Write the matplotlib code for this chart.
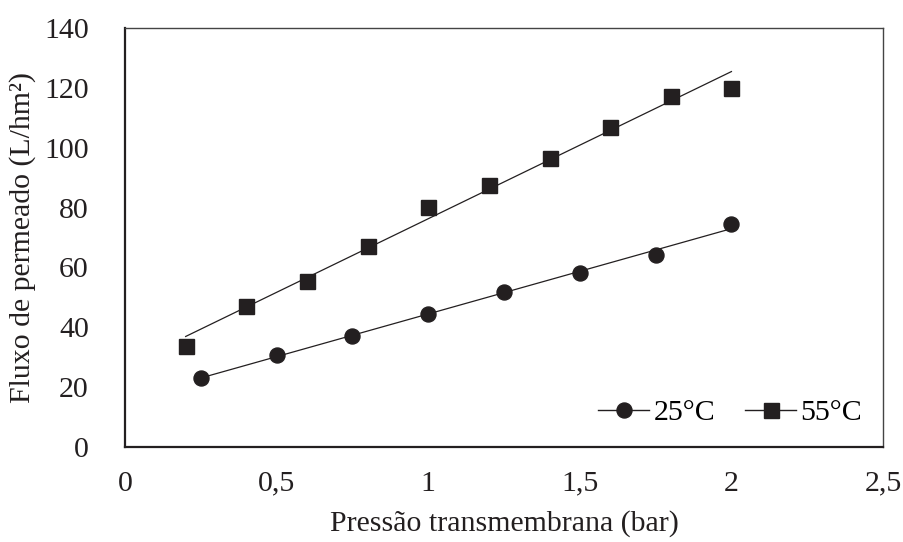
import numpy as np
import matplotlib
matplotlib.use("Agg")
import matplotlib.pyplot as plt
from matplotlib.lines import Line2D

plt.rcParams['font.family'] = ['Liberation Serif', 'DejaVu Serif']

# data
p25 = [0.25, 0.5, 0.75, 1.0, 1.25, 1.5, 1.75, 2.0]
fluxo25 = [23.2, 30.6, 37.0, 44.6, 51.7, 58.1, 64.3, 74.6]
p55 = [0.2, 0.4, 0.6, 0.8, 1.0, 1.2, 1.4, 1.6, 1.8, 2.0]
fluxo55 = [33.6, 47.0, 55.3, 67.3, 80.2, 87.7, 96.6, 107.0, 117.2, 120.0]

xticks = [0, 0.5, 1, 1.5, 2, 2.5]
xticklabels = ['0', '0,5', '1', '1,5', '2', '2,5']
yticks = [0, 20, 40, 60, 80, 100, 120, 140]

cor = '#231F20'
fs = 21.5

fig = plt.figure(figsize=(9.04, 5.42), dpi=100)
ax = fig.add_axes([0.1383, 0.1753, 0.8385, 0.773])

# points
ax.plot(p25, fluxo25, 'o', color=cor, ms=10.8, zorder=3)
ax.plot(p55, fluxo55, 's', color=cor, ms=10.8, zorder=3)

# linear trend lines
for x, y in [(p25, fluxo25), (p55, fluxo55)]:
    a, b = np.polyfit(x, y, 1)
    xx = np.array([min(x), max(x)])
    ax.plot(xx, a * xx + b, '-', color=cor, lw=0.9, zorder=2)

ax.set_xlim(0, 2.5)
ax.set_ylim(0, 140)
ax.set_xticks(xticks)
ax.set_xticklabels(xticklabels)
ax.set_yticks(yticks)
ax.tick_params(length=0, labelsize=fs, colors=cor)
ax.tick_params(axis='y', pad=26)
ax.tick_params(axis='x', pad=17)

for s in ['left', 'bottom']:
    ax.spines[s].set_linewidth(1.6)
    ax.spines[s].set_color(cor)
for s in ['top', 'right']:
    ax.spines[s].set_linewidth(1.0)
    ax.spines[s].set_color('#444444')

ax.set_xlabel('Pressão transmembrana (bar)', fontsize=fs, color=cor, labelpad=10)
ax.set_ylabel('Fluxo de permeado (L/hm²)', fontsize=fs, color=cor, labelpad=6)

handles = [
    Line2D([], [], color=cor, lw=1.0, marker='o', ms=10.8),
    Line2D([], [], color=cor, lw=1.0, marker='s', ms=10.8),
]
ax.legend(handles, ['25°C', '55°C'], loc='lower right', ncol=2, frameon=False,
          fontsize=fs, handlelength=1.7, handletextpad=0.15, columnspacing=1.0,
          borderaxespad=0.3, bbox_to_anchor=(1.0, 0.0))

fig.savefig('out.png', dpi=100)
